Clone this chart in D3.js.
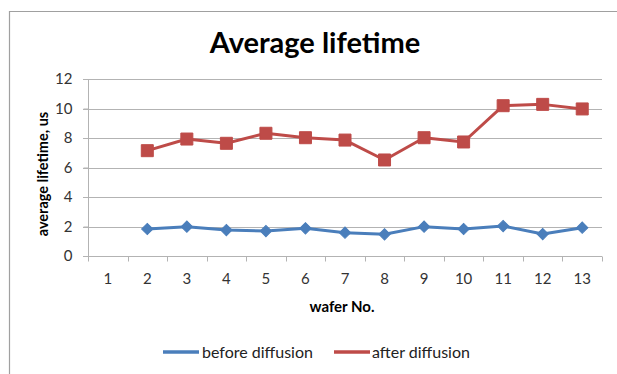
<!DOCTYPE html>
<html><head><meta charset="utf-8">
<script src="https://cdn.jsdelivr.net/npm/d3@7"></script>
<style>body{margin:0;background:#fff}svg{display:block}text{font-family:Lato,"Open Sans",sans-serif}</style>
</head><body><svg id="c" width="617" height="374"></svg>
<script>
const categories = ["1","2","3","4","5","6","7","8","9","10","11","12","13"];
const beforeDiffusion = [null,1.83,1.99,1.76,1.69,1.88,1.58,1.47,1.99,1.83,2.03,1.49,1.92];
const afterDiffusion  = [null,7.14,7.93,7.64,8.32,8.02,7.86,6.51,8.02,7.73,10.19,10.28,9.97];
const yTicks = [0,2,4,6,8,10,12];
const seriesNames = ["before diffusion","after diffusion"];

const svg = d3.select("#c");
const m = {l:88, r:602, t:79, b:256};
const x = d3.scaleBand().domain(categories).range([m.l, m.r]);
const y = d3.scaleLinear().domain([0,12]).range([m.b, m.t]);
const grid = "#b3b3b3";

// chart border
svg.append("path").attr("d","M9.5,374 V11.5 H617").attr("fill","none").attr("stroke","#a0a0a0").attr("stroke-width",1.2);

// gridlines
svg.append("g").selectAll("line").data(yTicks).join("line")
  .attr("x1", m.l-5).attr("x2", m.r).attr("y1", d=>Math.round(y(d))+0.5).attr("y2", d=>Math.round(y(d))+0.5)
  .attr("stroke", grid).attr("stroke-width",1);

// y axis
const ya = svg.append("g").attr("transform",`translate(${m.l+0.5},0)`)
  .call(d3.axisLeft(y).tickValues(yTicks).tickSize(5).tickPadding(11));
ya.select(".domain").attr("stroke",grid).attr("d",`M0,${m.t}V${m.b}`);
ya.selectAll("line").attr("stroke",grid);
ya.selectAll("text").attr("font-size",15).attr("fill","#333");

// x axis
const xa = svg.append("g").attr("transform",`translate(0,${Math.round(m.b)+0.5})`)
  .call(d3.axisBottom(x).tickSize(0).tickPadding(17));
xa.select(".domain").attr("stroke",grid).attr("d",`M${m.l},0H${m.r}`);
xa.selectAll("text").attr("font-size",15).attr("fill","#333");
const bounds = categories.map(c=>x(c)).concat([m.r]);
xa.append("g").selectAll("line").data(bounds).join("line")
  .attr("x1",d=>Math.round(d)+0.5).attr("x2",d=>Math.round(d)+0.5).attr("y1",0).attr("y2",5)
  .attr("stroke",grid);

// titles
svg.append("text").attr("x",315).attr("y",53).attr("text-anchor","middle")
  .attr("font-size",29).attr("font-weight","bold").attr("fill","#000").text("Average lifetime");
svg.append("text").attr("x",342).attr("y",312).attr("text-anchor","middle")
  .attr("font-size",15).attr("font-weight","bold").attr("fill","#000").text("wafer No.");
svg.append("text").attr("transform","translate(48,174) rotate(-90)").attr("text-anchor","middle")
  .attr("font-size",14.5).attr("font-weight","bold").attr("fill","#000").text("average lifetime, us");

// series
const colors = ["#4a7ebb","#be4b48"];
const data = [beforeDiffusion, afterDiffusion];
const cx = c => x(c) + x.bandwidth()/2;
const line = d3.line().defined(d=>d[1]!=null).x(d=>cx(d[0])).y(d=>y(d[1]));
data.forEach((vals,i)=>{
  const pts = categories.map((c,j)=>[c,vals[j]]);
  svg.append("path").datum(pts).attr("d",line).attr("fill","none")
    .attr("stroke",colors[i]).attr("stroke-width",3).attr("stroke-linejoin","round");
  svg.append("g").selectAll("path").data(pts.filter(d=>d[1]!=null)).join("path")
    .attr("transform",d=>`translate(${cx(d[0])},${y(d[1])})` + (i===0 ? " rotate(45)" : ""))
    .attr("d", i===0 ? d3.symbol(d3.symbolSquare, 64)() : d3.symbol(d3.symbolSquare, 144)())
    .attr("fill",colors[i]).attr("stroke",colors[i]).attr("stroke-width",1);
});

// legend
const leg = [{x1:163,x2:199,tx:202},{x1:334,x2:370,tx:372}];
leg.forEach((L,i)=>{
  svg.append("line").attr("x1",L.x1).attr("x2",L.x2).attr("y1",352).attr("y2",352)
    .attr("stroke",colors[i]).attr("stroke-width",3.5);
  svg.append("text").attr("x",L.tx).attr("y",358).attr("font-size",16).attr("fill","#222").text(seriesNames[i]);
});
</script></body></html>
